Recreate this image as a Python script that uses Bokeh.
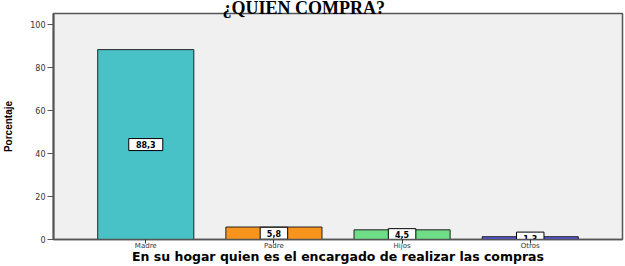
from bokeh.plotting import figure
from bokeh.models import ColumnDataSource, Range1d, FixedTicker
from bokeh.core.properties import value
from bokeh.embed import file_html
from bokeh.resources import INLINE

title_text = "¿QUIEN COMPRA?"
x_title = "En su hogar quien es el encargado de realizar las compras"
y_title = "Porcentaje"
categories = ["Madre", "Padre", "Hijos", "Otros"]
values = [88.3, 5.8, 4.5, 1.3]
value_labels = ["88,3", "5,8", "4,5", "1,3"]
colors = ["#49c2c7", "#f7941e", "#6fdc86", "#5656dc"]
y_ticks = [0, 20, 40, 60, 80, 100]

xs = list(range(len(categories)))
src = ColumnDataSource(dict(x=xs, top=values, half=[v / 2 for v in values],
                            lab=value_labels, color=colors,
                            bw=[8 + 6.5 * len(s) for s in value_labels]))

p = figure(width=625, height=266, output_backend="svg", toolbar_location=None,
           x_range=Range1d(-0.72, 3.72), y_range=Range1d(0, 105.1),
           min_border_left=53, min_border_right=3, min_border_top=13,
           min_border_bottom=26, title=title_text)
p.background_fill_color = "#f0f0f0"
p.border_fill_color = "white"
p.outline_line_color = "#555555"
p.outline_line_width = 1.5
p.grid.visible = False

p.title.text_font = "Liberation Serif"
p.title.text_font_size = "18px"
p.title.text_font_style = "bold"
p.title.text_color = "black"
p.title.align = "left"
p.title.offset = 169
p.title.vertical_align = "middle"
p.title.standoff = -10

p.vbar(x="x", top="top", width=0.75, bottom=0, source=src,
       fill_color="color", line_color="#222222", line_width=1)

p.rect(x="x", y="half", width="bw", height=12, width_units="screen",
       height_units="screen", source=src, fill_color="white",
       line_color="black", line_width=1)
p.text(x="x", y="half", text="lab", source=src, text_align="center",
       text_baseline="middle", text_font=value("DejaVu Sans"),
       text_font_size="8px", text_font_style="bold", text_color="black")

p.yaxis.ticker = FixedTicker(ticks=y_ticks)
p.yaxis.minor_tick_line_color = None
p.yaxis.major_tick_out = 6
p.yaxis.major_tick_in = 0
p.yaxis.major_label_text_font_size = "8px"
p.yaxis.major_label_text_font = "DejaVu Sans"
p.yaxis.major_label_text_color = "#333333"
p.yaxis.major_label_standoff = 2
p.yaxis.axis_line_color = "#555555"
p.yaxis.axis_line_width = 2
p.yaxis.major_tick_line_color = "#555555"
p.yaxis.axis_label = y_title
p.yaxis.axis_label_text_font = "Liberation Sans"
p.yaxis.axis_label_text_font_size = "10px"
p.yaxis.axis_label_text_font_style = "bold"
p.yaxis.axis_label_text_color = "black"
p.yaxis.axis_label_standoff = 13

p.xaxis.ticker = FixedTicker(ticks=xs)
p.xaxis.major_label_overrides = {i: c for i, c in zip(xs, categories)}
p.xaxis.minor_tick_line_color = None
p.xaxis.major_tick_out = 4
p.xaxis.major_tick_in = 0
p.xaxis.major_label_text_font_size = "7px"
p.xaxis.major_label_text_font = "DejaVu Sans"
p.xaxis.major_label_text_color = "#333333"
p.xaxis.major_label_standoff = -2
p.xaxis.axis_line_color = "#555555"
p.xaxis.axis_line_width = 1.5
p.xaxis.major_tick_line_color = "#333333"
p.xaxis.axis_label = x_title
p.xaxis.axis_label_text_font = "DejaVu Sans"
p.xaxis.axis_label_text_font_size = "12.5px"
p.xaxis.axis_label_text_font_style = "bold"
p.xaxis.axis_label_text_color = "black"
p.xaxis.axis_label_standoff = -4

open("out.html", "w").write(file_html(p, INLINE))
